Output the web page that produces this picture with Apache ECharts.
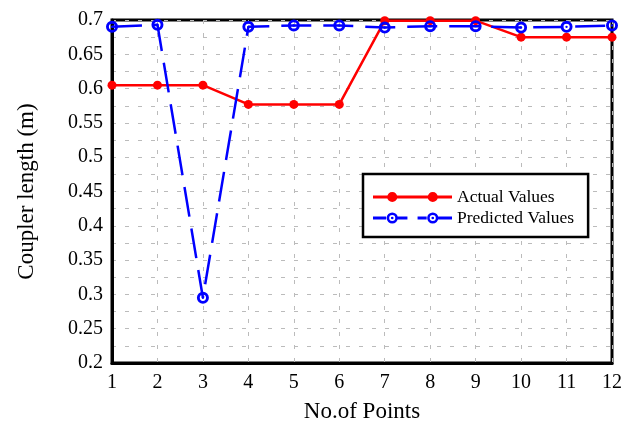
<!DOCTYPE html>
<html><head><meta charset="utf-8">
<script src="https://cdn.jsdelivr.net/npm/echarts@6/dist/echarts.min.js"></script>
<style>html,body{margin:0;padding:0;background:#fff}#c{width:629px;height:430px}</style>
</head><body><div id="c"></div>
<script>
const points = [1,2,3,4,5,6,7,8,9,10,11,12];
const actualValues = [0.605,0.605,0.605,0.577,0.577,0.577,0.699,0.699,0.699,0.675,0.675,0.675];
const predictedValues = [0.690,0.693,0.295,0.690,0.692,0.692,0.689,0.691,0.691,0.689,0.690,0.692];

const font = 'Liberation Serif';
const iconPath = 'path://M0,5L78,5L78,8L0,8Z M14,6.5A5,5 0 1,1 24,6.5A5,5 0 1,1 14,6.5Z M54,6.5A5,5 0 1,1 64,6.5A5,5 0 1,1 54,6.5Z';
const ringAt = (cx) => `M${cx-5.5},6.5A5.5,5.5 0 1,1 ${cx+5.5},6.5A5.5,5.5 0 1,1 ${cx-5.5},6.5Z M${cx-3},6.5A3,3 0 1,0 ${cx+3},6.5A3,3 0 1,0 ${cx-3},6.5Z M${cx-1.3},6.5A1.3,1.3 0 1,1 ${cx+1.3},6.5A1.3,1.3 0 1,1 ${cx-1.3},6.5Z`;
const iconPathDash = 'path://M0,5L13,5L13,8L0,8Z M24,5L34,5L34,8L24,8Z M44,5L53,5L53,8L44,8Z M64,5L78,5L78,8L64,8Z ' + ringAt(19) + ' ' + ringAt(59);
const ringSymbol = 'path://M0,5A5,5 0 1,1 10,5A5,5 0 1,1 0,5Z M2.4,5A2.6,2.6 0 1,0 7.6,5A2.6,2.6 0 1,0 2.4,5Z M4,5A1,1 0 1,1 6,5A1,1 0 1,1 4,5Z';

const chart = echarts.init(document.getElementById('c'));
chart.setOption({
  animation: false,
  backgroundColor: '#fff',
  grid: {left: 112, right: 17, top: 20, bottom: 67, show: true, borderColor: '#000', borderWidth: 3, backgroundColor: '#fff'},
  legend: {
    left: 363, top: 174, orient: 'vertical',
    backgroundColor: '#fff', borderColor: '#000', borderWidth: 2.5, borderRadius: 0,
    padding: [14, 14, 10, 10], itemGap: 3, itemWidth: 79, itemHeight: 14,
    textStyle: {fontFamily: font, fontSize: 17.5, color: '#000'},
    data: [
      {name: 'Actual Values', icon: iconPath, itemStyle: {color: '#ff0000', borderWidth: 0}},
      {name: 'Predicted Values', icon: iconPathDash, itemStyle: {color: '#0000ff', borderWidth: 0}}
    ]
  },
  xAxis: {
    type: 'value', min: 1, max: 12, interval: 1,
    name: 'No.of Points', nameLocation: 'middle', nameGap: 37,
    nameTextStyle: {fontFamily: font, fontSize: 23, color: '#000'},
    axisLine: {show: true, lineStyle: {color: '#000', width: 3}},
    axisTick: {show: false},
    axisLabel: {fontFamily: font, fontSize: 20, color: '#000', margin: 10},
    splitLine: {show: true, lineStyle: {color: '#bbb', type: [4, 9], width: 1}}
  },
  yAxis: {
    type: 'value', min: 0.2, max: 0.7, interval: 0.05,
    name: 'Coupler length (m)', nameLocation: 'middle', nameGap: 74,
    nameTextStyle: {fontFamily: font, fontSize: 23, color: '#000'},
    axisLine: {show: true, lineStyle: {color: '#000', width: 3}},
    axisTick: {show: false},
    axisLabel: {fontFamily: font, fontSize: 20, color: '#000', margin: 9,
      formatter: v => String(+v.toFixed(2))},
    splitLine: {show: true, lineStyle: {color: '#bbb', type: [4, 9], width: 1}},
    minorTick: {show: false, splitNumber: 2},
    minorSplitLine: {show: true, lineStyle: {color: '#bbb', type: [4, 9], width: 1}}
  },
  series: [
    {
      name: 'Actual Values', type: 'line', clip: false, z: 3,
      data: points.map((p, i) => [p, actualValues[i]]),
      color: '#ff0000',
      lineStyle: {color: '#ff0000', width: 2.5},
      symbol: 'circle', symbolSize: 9,
      itemStyle: {color: '#ff0000'}
    },
    {
      name: 'Predicted Values', type: 'line', clip: false, z: 4,
      data: points.map((p, i) => [p, predictedValues[i]]),
      color: '#0000ff',
      lineStyle: {color: '#0000ff', width: 2.5, type: [30, 12]},
      symbol: ringSymbol, symbolSize: 12,
      itemStyle: {color: '#0000ff', borderWidth: 0}
    }
  ]
});
</script></body></html>
